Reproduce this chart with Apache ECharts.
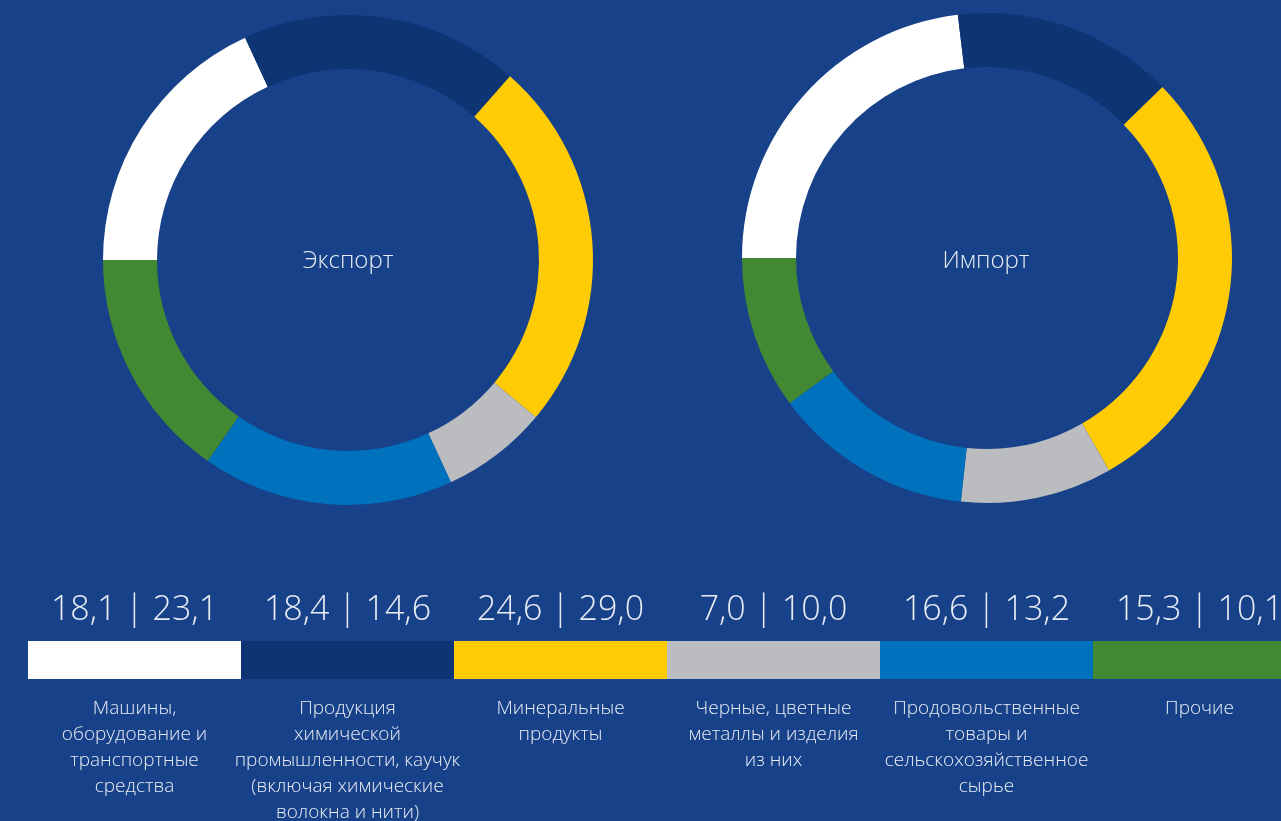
<!DOCTYPE html>
<html>
<head>
<meta charset="utf-8">
<script src="https://cdn.jsdelivr.net/npm/echarts@6/dist/echarts.min.js"></script>
<style>
    html, body {margin: 0; padding: 0; background: #174189;}
    #chart {width: 1281px; height: 821px;}
</style>
</head>
<body>
<div id="chart"></div>
<script>
const categories = [
    "Машины,\nоборудование и\nтранспортные\nсредства",
    "Продукция\nхимической\nпромышленности, каучук\n(включая химические\nволокна и нити)",
    "Минеральные\nпродукты",
    "Черные, цветные\nметаллы и изделия\nиз них",
    "Продовольственные\nтовары и\nсельскохозяйственное\nсырье",
    "Прочие"
];
const exportShare = [18.1, 18.4, 24.6, 7.0, 16.6, 15.3];
const importShare = [23.1, 14.6, 29.0, 10.0, 13.2, 10.1];
const colors = ["#ffffff", "#0e3474", "#ffcb05", "#bbbcbf", "#0071bc", "#438833"];

const fontFamily = "'Open Sans', 'Noto Sans', sans-serif";
const textColor = "#e8ecf4";

const chart = echarts.init(document.getElementById("chart"));

const fmt = v => v.toFixed(1).replace(".", ",");

function donut(name, values, center) {
    return {
        name,
        type: "pie",
        center,
        radius: [191, 245],
        startAngle: 180,
        clockwise: true,
        silent: true,
        label: {show: false},
        labelLine: {show: false},
        itemStyle: {borderWidth: 0},
        data: values.map((v, i) => ({name: categories[i], value: v, itemStyle: {color: colors[i]}}))
    };
}

chart.setOption({
    backgroundColor: "#174189",
    animation: false,
    title: [
        {text: "Экспорт", left: 343, top: 256, textAlign: "center", textVerticalAlign: "middle",
            textStyle: {color: textColor, fontFamily, fontWeight: 300, fontSize: 24}},
        {text: "Импорт", left: 981, top: 256, textAlign: "center", textVerticalAlign: "middle",
            textStyle: {color: textColor, fontFamily, fontWeight: 300, fontSize: 24}}
    ],
    grid: {left: 28, right: -25, top: 641, height: 38, containLabel: false, outerBoundsMode: "none"},
    xAxis: {
        type: "category",
        data: categories,
        axisLine: {show: false},
        axisTick: {show: false},
        axisLabel: {
            interval: 0,
            margin: 17,
            color: textColor,
            fontFamily,
            fontWeight: 300,
            fontSize: 19,
            lineHeight: 26,
            align: "center",
            hideOverlap: false
        }
    },
    yAxis: {type: "value", min: 0, max: 1, show: false},
    series: [
        donut("Экспорт", exportShare, [348, 260]),
        donut("Импорт", importShare, [987, 258]),
        {
            type: "bar",
            barCategoryGap: 0,
            silent: true,
            data: categories.map((c, i) => ({value: 1, itemStyle: {color: colors[i]}})),
            label: {
                show: true,
                position: "top",
                distance: 14,
                color: textColor,
                fontFamily,
                fontWeight: 300,
                fontSize: 34,
                formatter: p => `${fmt(exportShare[p.dataIndex])} | ${fmt(importShare[p.dataIndex])}`
            }
        }
    ]
});
</script>
</body>
</html>
